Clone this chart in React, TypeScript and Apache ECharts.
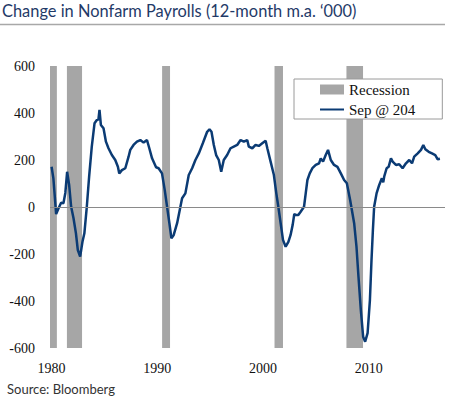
import React, { useEffect, useRef } from "react";
import * as echarts from "echarts";

const years = [
  1980.0, 1980.17, 1980.43, 1980.65, 1980.9, 1981.12, 1981.3, 1981.47, 1981.66, 1981.85,
  1982.07, 1982.3, 1982.48, 1982.7, 1982.92, 1983.1, 1983.33, 1983.55, 1983.8, 1984.06,
  1984.28, 1984.43, 1984.53, 1984.66, 1984.91, 1985.14, 1985.38, 1985.7, 1986.02, 1986.27,
  1986.4, 1986.65, 1986.97, 1987.28, 1987.44, 1987.75, 1988.07, 1988.39, 1988.7, 1989.02,
  1989.24, 1989.5, 1989.88, 1990.12, 1990.44, 1990.7, 1990.92, 1991.14, 1991.33, 1991.55,
  1991.87, 1992.18, 1992.34, 1992.65, 1992.97, 1993.29, 1993.6, 1993.92, 1994.3, 1994.71,
  1994.93, 1995.12, 1995.34, 1995.56, 1995.81, 1996.04, 1996.28, 1996.6, 1996.92, 1997.23,
  1997.55, 1997.87, 1998.18, 1998.5, 1998.65, 1998.98, 1999.29, 1999.6, 1999.92, 2000.24,
  2000.4, 2000.71, 2001.02, 2001.25, 2001.44, 2001.66, 2001.88, 2002.13, 2002.39, 2002.6,
  2002.8, 2002.95, 2003.08, 2003.33, 2003.55, 2003.87, 2004.03, 2004.19, 2004.41, 2004.66,
  2004.98, 2005.29, 2005.45, 2005.67, 2005.92, 2006.14, 2006.4, 2006.71, 2007.03, 2007.35,
  2007.66, 2007.92, 2008.23, 2008.61, 2008.83, 2009.02, 2009.24, 2009.46, 2009.65, 2009.88,
  2010.1, 2010.25, 2010.38, 2010.5, 2010.73, 2010.98, 2011.23, 2011.36, 2011.45, 2011.68,
  2011.87, 2012.09, 2012.25, 2012.56, 2012.87, 2013.19, 2013.51, 2013.82, 2014.08, 2014.29,
  2014.62, 2014.93, 2015.15, 2015.34, 2015.66, 2015.97, 2016.28, 2016.51, 2016.72,
];

const payrolls = [
  171, 122, -30, -6, 18, 16, 60, 150, 94, 1,
  -47, -111, -183, -211, -148, -112, 1, 129, 257, 356,
  370, 373, 413, 349, 335, 278, 250, 221, 200, 171,
  143, 157, 165, 214, 243, 264, 278, 285, 274, 285,
  250, 207, 169, 165, 143, 72, 1, -69, -133, -119,
  -69, 1, 37, 58, 136, 165, 200, 228, 271, 320,
  331, 320, 264, 221, 200, 150, 200, 221, 250, 257,
  264, 285, 278, 285, 257, 250, 264, 260, 271, 282,
  250, 193, 136, 58, 1, -69, -140, -169, -148, -119,
  -75, -30, -34, -34, -20, 1, 58, 115, 143, 165,
  179, 186, 207, 193, 221, 243, 200, 179, 171, 143,
  115, 101, 30, -69, -169, -297, -438, -552, -573, -537,
  -396, -226, -100, 1, 58, 94, 122, 105, 129, 165,
  171, 207, 193, 179, 182, 165, 186, 200, 186, 214,
  228, 243, 264, 246, 235, 228, 221, 203, 205,
];

const recessions: [number, number][] = [
  [1979.85, 1980.5],
  [1981.45, 1982.88],
  [1990.45, 1991.2],
  [2001.08, 2001.88],
  [2007.88, 2009.45],
];

const xTickLabels = [1980, 1990, 2000, 2010];
const yTicks = { min: -600, max: 600, interval: 200 };

const titleText = "Change in Nonfarm Payrolls (12-month m.a. \u2018000)";
const sourceText = "Source: Bloomberg";
const lineName = "Sep @ 204";
const recessionName = "Recession";

export default function App() {
  const ref = useRef<HTMLDivElement>(null);
  useEffect(() => {
    if (!ref.current) return;
    const chart = echarts.init(ref.current, undefined, { renderer: "svg" });
    const serif = "'Liberation Serif', 'Times New Roman', serif";
    const sans = "Lato, 'Noto Sans', sans-serif";
    chart.setOption({
      animation: false,
      backgroundColor: "#ffffff",
      title: {
        text: titleText,
        left: 2,
        top: 2,
        padding: 0,
        textStyle: {
          fontFamily: sans,
          fontWeight: "normal",
          fontSize: 16.4,
          color: "#1f3a68",
        },
      },
      graphic: [
        {
          type: "line",
          shape: { x1: 0, y1: 24.5, x2: 445, y2: 24.5 },
          style: { stroke: "#a8a8a8", lineWidth: 1.5 },
        },
        {
          type: "text",
          left: 7,
          top: 382,
          style: {
            text: sourceText,
            fontFamily: sans,
            fontSize: 13,
            fill: "#333333",
          },
        },
      ],
      legend: {
        orient: "vertical",
        left: 294,
        top: 79,
        padding: [3, 27, 2, 25],
        itemGap: 5,
        itemWidth: 24,
        itemHeight: 10,
        selectedMode: false,
        backgroundColor: "#ffffff",
        borderColor: "#9a9a9a",
        borderWidth: 1,
        borderRadius: 0,
        textStyle: { fontFamily: serif, fontSize: 15, color: "#111111", lineHeight: 15 },
        data: [
          { name: recessionName, icon: "rect", itemStyle: { color: "#a6a6a6" } },
          { name: lineName, itemStyle: { opacity: 0 } },
        ],
      },
      grid: { left: 50, right: 5, top: 66, bottom: 50 },
      xAxis: {
        type: "value",
        min: 1979.85,
        max: 2017.2,
        axisLine: { show: false, onZero: false },
        axisTick: { show: false },
        splitLine: { show: false },
        axisLabel: {
          customValues: xTickLabels,
          margin: 13,
          fontFamily: serif,
          fontSize: 14,
          color: "#111111",
          formatter: (v: number) => String(Math.round(v)),
        },
      },
      yAxis: {
        type: "value",
        min: yTicks.min,
        max: yTicks.max,
        interval: yTicks.interval,
        axisLine: { show: false },
        axisTick: { show: false },
        splitLine: { show: false },
        axisLabel: {
          margin: 15,
          fontFamily: serif,
          fontSize: 14,
          color: "#111111",
        },
      },
      series: [
        {
          name: recessionName,
          type: "line",
          data: [],
          itemStyle: { color: "#a6a6a6" },
          lineStyle: { color: "#a6a6a6" },
          markArea: {
            silent: true,
            itemStyle: { color: "#a6a6a6", opacity: 1 },
            label: { show: false },
            data: recessions.map(([s, e]) => [{ xAxis: s }, { xAxis: e }]),
          },
        },
        {
          name: lineName,
          type: "line",
          data: years.map((y, i) => [y, payrolls[i]]),
          showSymbol: false,
          symbol: "none",
          lineStyle: { color: "#0b3b74", width: 2.5 },
          itemStyle: { color: "#0b3b74" },
          z: 3,
          markLine: {
            silent: true,
            symbol: "none",
            label: { show: false },
            lineStyle: { color: "#8a8a8a", width: 1, type: "solid" },
            data: [{ yAxis: 0 }],
          },
        },
      ],
    });
    return () => chart.dispose();
  }, []);
  return <div ref={ref} style={{ width: 450, height: 398, position: "absolute", left: 0, top: 0 }} />;
}
